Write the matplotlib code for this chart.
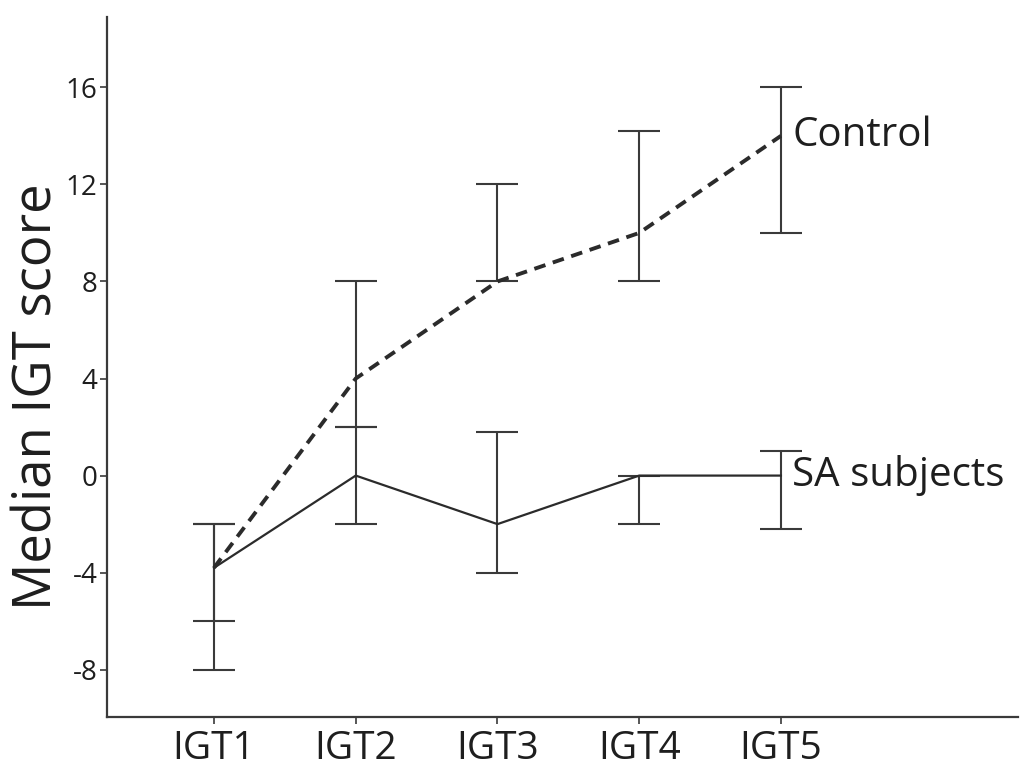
import matplotlib
matplotlib.use("Agg")
import matplotlib.pyplot as plt

# -------------------------------
# Data

sessions = ["IGT1", "IGT2", "IGT3", "IGT4", "IGT5"]
x_pos = [1, 2, 3, 4, 5]

control_median = [-3.8, 4, 8, 10, 14]
control_low = [-6, 2, 8, 8, 10]
control_high = [-2, 8, 12, 14.2, 16]

sa_median = [-3.8, 0, -2, 0, 0]
sa_low = [-8, -2, -4, -2, -2.2]
sa_high = [-2, 2, 1.8, 0, 1]

y_ticks = [-8, -4, 0, 4, 8, 12, 16]

# -------------------
# Font parameters

plt.rcParams['font.family'] = ['Open Sans', 'DejaVu Sans']

fig = plt.figure(figsize=(10.23, 7.69), dpi=100)
ax = fig.add_axes([0.1046, 0.0676, 0.8904, 0.9103])

ink = "#2b2b2b"
bar_ink = "#3a3a3a"

# ------------------
# Error bars

def err(med, lo, hi):
    return [[m - l for m, l in zip(med, lo)], [h - m for m, h in zip(med, hi)]]

ax.errorbar(x_pos, control_median, yerr=err(control_median, control_low, control_high),
            fmt="none", ecolor=bar_ink, elinewidth=1.5, capsize=15, capthick=1.5, zorder=2)
ax.errorbar(x_pos, sa_median, yerr=err(sa_median, sa_low, sa_high),
            fmt="none", ecolor=bar_ink, elinewidth=1.5, capsize=15, capthick=1.5, zorder=2)

# ------------------
# Median lines

ax.plot(x_pos, control_median, color=ink, lw=2.8, linestyle=(0, (3, 2)), zorder=3)
ax.plot(x_pos, sa_median, color=ink, lw=1.6, zorder=3)

ax.text(5.08, control_median[-1], "Control", fontsize=29, color="#1e1e1e",
        ha="left", va="center")
ax.text(5.08, sa_median[-1], "SA subjects", fontsize=29, color="#1e1e1e",
        ha="left", va="center")

# ------------------
# Axes styling

ax.set_xlim(0.245, 6.672)
ax.set_ylim(-9.95, 18.9)
ax.set_xticks(x_pos)
ax.set_xticklabels(sessions, fontsize=28, color="#1e1e1e")
ax.set_yticks(y_ticks)
ax.set_yticklabels([str(v) for v in y_ticks], fontsize=20, color="#1e1e1e")
ax.tick_params(axis="both", direction="out", length=5, width=1.2, color=bar_ink)
ax.tick_params(axis="x", pad=4)
ax.tick_params(axis="y", pad=2)

for spine in ["top", "right"]:
    ax.spines[spine].set_visible(False)
for spine in ["left", "bottom"]:
    ax.spines[spine].set_linewidth(1.6)
    ax.spines[spine].set_color(bar_ink)

ax.set_ylabel("Median IGT score", fontsize=38, color="#1e1e1e")
ax.yaxis.set_label_coords(-0.047, 0.457)

fig.savefig("out.png", dpi=100)
